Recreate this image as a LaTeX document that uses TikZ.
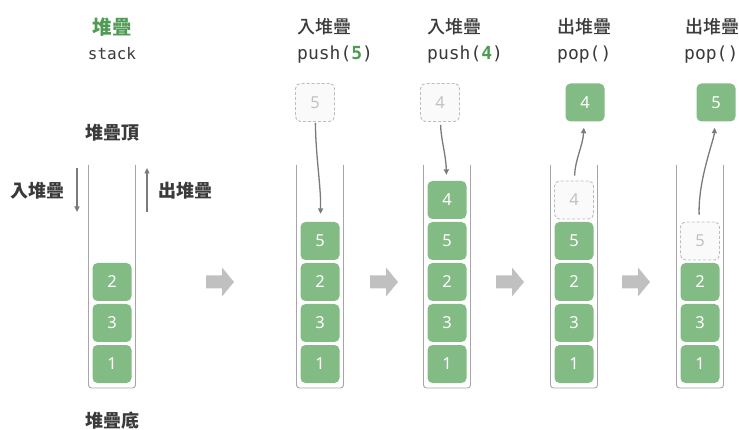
\documentclass[tikz,border=0pt]{standalone}
\usepackage{fontspec}
\newfontfamily\cjk{Noto Sans CJK TC}
\newfontfamily\cjkm{Noto Sans CJK TC Medium}
\newfontfamily\mono{DejaVu Sans Mono}
\newfontfamily\numf{Noto Sans}
\usetikzlibrary{arrows.meta}
\definecolor{boxgreen}{HTML}{83BB85}
\definecolor{titlegreen}{HTML}{4F9B53}
\definecolor{txt}{HTML}{3A3A3A}
\definecolor{dashgray}{HTML}{BDBDBD}
\definecolor{ghostfill}{HTML}{FAFAFA}
\definecolor{ghosttext}{HTML}{C2C2C2}
\definecolor{tubecol}{HTML}{A6A6A6}
\definecolor{arr}{HTML}{7A7A7A}
\definecolor{blockarr}{HTML}{C0C0C0}
\tikzset{
  elem/.style={fill=boxgreen, rounded corners=5pt, minimum width=39pt, minimum height=38pt, inner sep=0pt, text=white, font=\numf\fontsize{16.5}{16.5}\selectfont},
  ghost/.style={elem, fill=ghostfill, draw=dashgray, line width=0.9pt, dash pattern=on 3pt off 2pt, text=ghosttext},
  tubeline/.style={draw=tubecol, line width=0.9pt, rounded corners=3pt},
  flow/.style={draw=arr, line width=1.3pt, -{Triangle[length=5.5pt,width=5pt]}},
  steptitle/.style={anchor=west, inner sep=0pt, text=txt, font=\cjkm\fontsize{18}{18}\selectfont},
  stepcode/.style={anchor=west, inner sep=0pt, text=txt, font=\mono\fontsize{18}{18}\selectfont},
  bigl/.style={inner sep=0pt, text=txt, font=\cjk\bfseries\fontsize{18}{18}\selectfont},
}
\begin{document}
\begin{tikzpicture}[x=1pt,y=-1pt]
\useasboundingbox (0,0) rectangle (739,430);
% tubes
\foreach \cx in {112,320,447,574,700}{
  \draw[tubeline] (\cx-23.5,165) -- (\cx-23.5,388) -- (\cx+23.5,388) -- (\cx+23.5,165);
}
% block arrows
\foreach \cx in {220,384,510,636}{
  \fill[blockarr] (\cx-14,275.5) -- (\cx+2,275.5) -- (\cx+2,267.5) -- (\cx+14,282) -- (\cx+2,296.5) -- (\cx+2,288.5) -- (\cx-14,288.5) -- cycle;
}
% left labels
\node[inner sep=0pt, text=titlegreen, font=\cjk\bfseries\fontsize{19.5}{19.5}\selectfont] (ltitle) at (112,27) {堆疊};
\node[inner sep=0pt, text=txt, font=\mono\fontsize{16}{16}\selectfont] (lstack) at (112,54) {stack};
\node[bigl] (ltop) at (112,133) {堆疊頂};
\node[bigl] (lbot) at (112,421) {堆疊底};
\node[bigl] (lin) at (37,191) {入堆疊};
\node[bigl] (lout) at (185.5,191) {出堆疊};
\coordinate (inA) at (77,168);
\coordinate (inB) at (77,212);
\coordinate (outA) at (147,212);
\coordinate (outB) at (147,168);
\draw[flow] (inA) -- (inB);
\draw[flow] (outA) -- (outB);
% stack 1
\node[elem] (s1one) at (112,364) {1};
\node[elem] (s1three) at (112,323) {3};
\node[elem] (s1two) at (112,282) {2};
% stack 2
\node[steptitle] (t2a) at (297,27) {入堆疊};
\node[stepcode] (t2b) at (297,55) {push({\bfseries\color{titlegreen}5})};
\node[elem] (s2one) at (320,364) {1};
\node[elem] (s2three) at (320,323) {3};
\node[elem] (s2two) at (320,282) {2};
\node[elem] (s2five) at (320,241) {5};
\node[ghost] (g5) at (315,102.5) {5};
\draw[flow, shorten <=1pt, shorten >=8pt] (g5) .. controls (316,160) and (321,185) .. (s2five);
% stack 3
\node[steptitle] (t3a) at (427,27) {入堆疊};
\node[stepcode] (t3b) at (427,55) {push({\bfseries\color{titlegreen}4})};
\node[elem] (s3one) at (447,364) {1};
\node[elem] (s3three) at (447,323) {3};
\node[elem] (s3two) at (447,282) {2};
\node[elem] (s3five) at (447,241) {5};
\node[elem] (s3four) at (447,200) {4};
\node[ghost] (g4) at (440,102.5) {4};
\draw[flow, shorten <=3pt, shorten >=6pt] (g4) .. controls (441,140) and (446,155) .. (s3four);
% stack 4
\node[steptitle] (t4a) at (557,27) {出堆疊};
\node[stepcode] (t4b) at (557,55) {pop()};
\node[elem] (s4one) at (574,364) {1};
\node[elem] (s4three) at (574,323) {3};
\node[elem] (s4two) at (574,282) {2};
\node[elem] (s4five) at (574,241) {5};
\node[ghost] (s4ghost) at (574,200) {4};
\node[elem] (p4) at (585,102.5) {4};
\draw[flow, shorten <=5pt, shorten >=6pt] (s4ghost) .. controls (575,160) and (583,145) .. (p4);
% stack 5
\node[steptitle] (t5a) at (685,27) {出堆疊};
\node[stepcode] (t5b) at (684,55) {pop()};
\node[elem] (s5one) at (700,364) {1};
\node[elem] (s5three) at (700,323) {3};
\node[elem] (s5two) at (700,282) {2};
\node[ghost] (s5ghost) at (700,241) {5};
\node[elem] (p5) at (716,102.5) {5};
\draw[flow, shorten <=7pt, shorten >=6pt] (s5ghost) .. controls (698,180) and (714,140) .. (p5);
\end{tikzpicture}
\end{document}
